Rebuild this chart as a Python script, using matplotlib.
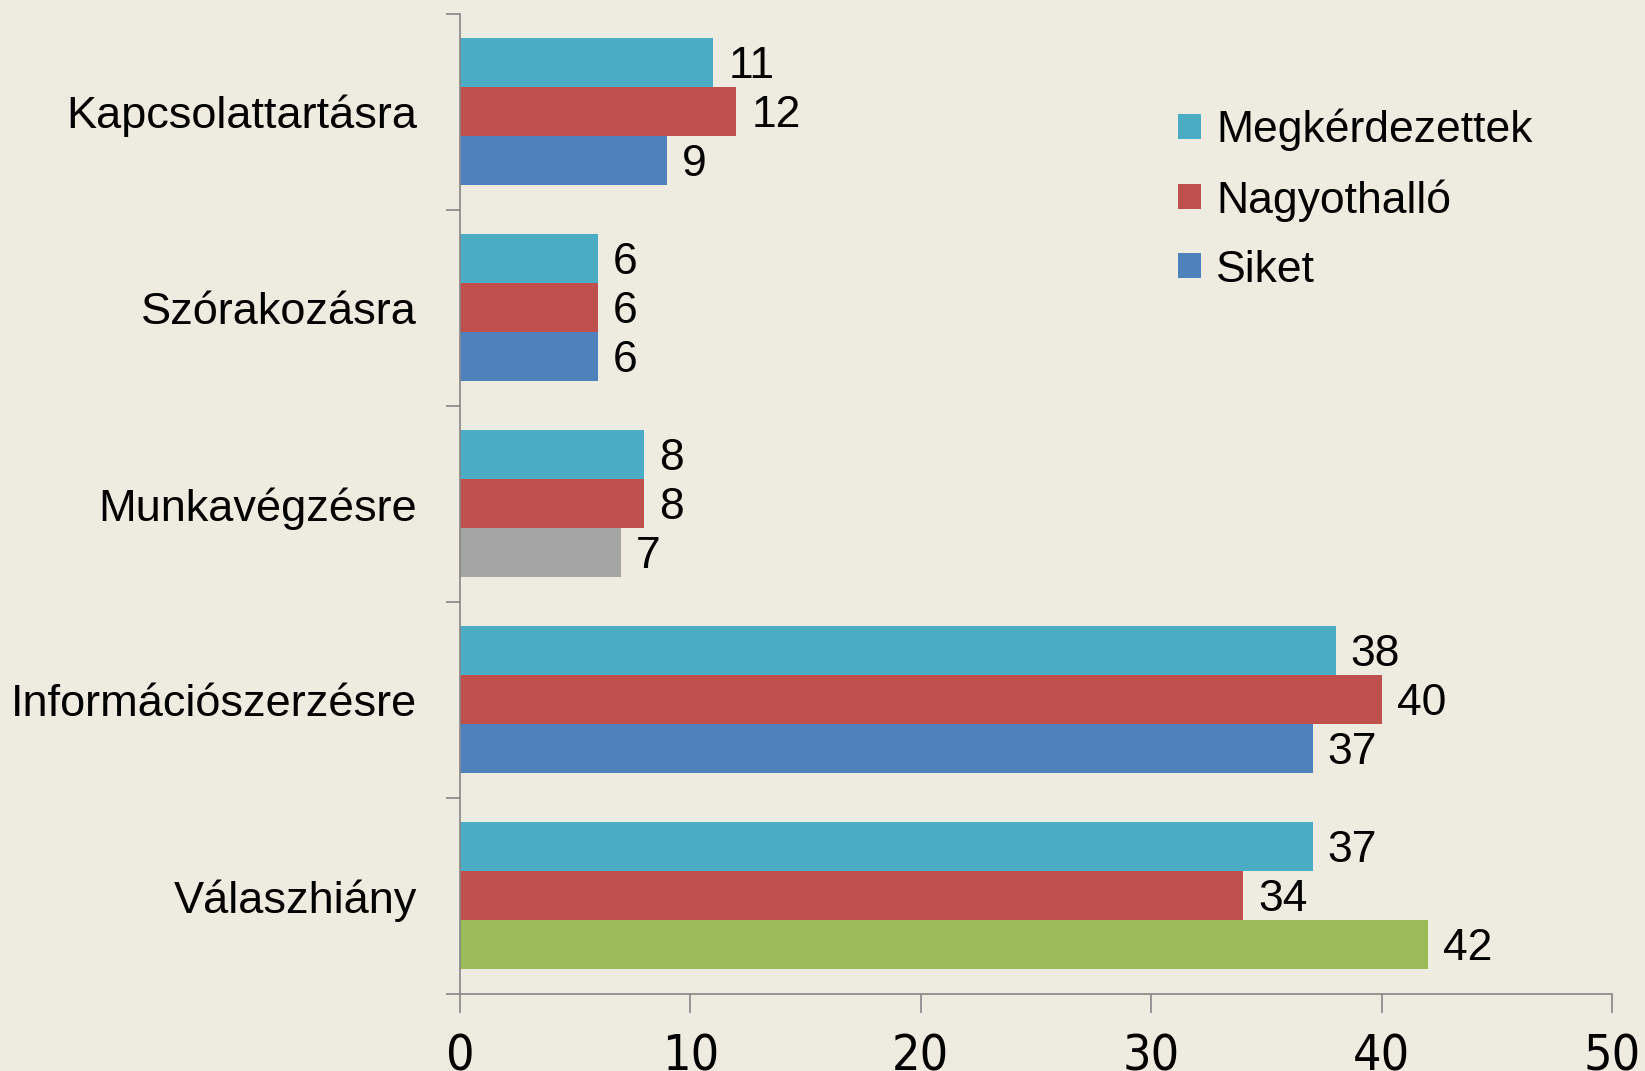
import numpy as np
import matplotlib.pyplot as plt
from matplotlib.patches import Patch

categories = ["Kapcsolattartásra", "Szórakozásra", "Munkavégzésre",
              "Információszerzésre", "Válaszhiány"]
series_names = ["Megkérdezettek", "Nagyothalló", "Siket"]
megkerdezettek = [11, 6, 8, 38, 37]
nagyothallo = [12, 6, 8, 40, 34]
siket = [9, 6, 7, 37, 42]
xticks = [0, 10, 20, 30, 40, 50]

bg = "#EEEBE0"
c_teal = "#4BACC6"
c_red = "#C0504D"
c_blue = "#4F81BD"
siket_colors = [c_blue, c_blue, "#A5A5A5", c_blue, "#9BBB59"]

plt.rcParams['font.family'] = ['Liberation Sans', 'DejaVu Sans']

fig = plt.figure(figsize=(16.45, 10.71), dpi=100, facecolor=bg)
ax = fig.add_axes([0.2796, 0.0719, 0.7004, 0.9154], facecolor=bg)

centers = np.arange(len(categories)) + 0.5
h = 0.25
groups = [(megkerdezettek, [c_teal] * 5, -h),
          (nagyothallo, [c_red] * 5, 0),
          (siket, siket_colors, h)]
for vals, cols, off in groups:
    ax.barh(centers + off, vals, height=h, color=cols, edgecolor='none')
    for y, v in zip(centers + off, vals):
        ax.text(v + 0.65, y + 0.02, str(v), va='center', ha='left',
                fontsize=32, color='black')

ax.set_ylim(len(categories), 0)
ax.set_xlim(0, 50)

ax.set_yticks(centers)
ax.set_yticklabels(categories, fontsize=32.5)
ax.set_yticks(np.arange(len(categories) + 1), minor=True)
ax.tick_params(axis='y', which='major', length=0, pad=31)
ax.tick_params(axis='y', which='minor', length=10, width=1.2, color='#868686')

ax.set_xticks(xticks)
ax.set_xticklabels([str(t) for t in xticks], fontsize=36,
                   family='DejaVu Sans', fontstretch='condensed')
ax.tick_params(axis='x', length=14, width=1.2, color='#868686', pad=14)
ax.xaxis.set_minor_locator(plt.NullLocator())

for s in ['top', 'right']:
    ax.spines[s].set_visible(False)
for s in ['left', 'bottom']:
    ax.spines[s].set_color('#868686')
    ax.spines[s].set_linewidth(1.2)

handles = [Patch(facecolor=c, edgecolor='none') for c in [c_teal, c_red, c_blue]]
fig.legend(handles, series_names, loc='upper left', bbox_to_anchor=(0.692, 0.936),
           frameon=False, fontsize=32, handlelength=0.5, handleheight=0.5,
           handletextpad=0.35, labelspacing=0.63)

fig.savefig("out.png", dpi=100, facecolor=bg)
